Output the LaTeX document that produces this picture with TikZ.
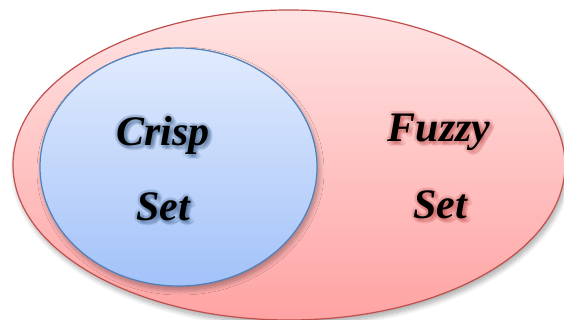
\documentclass[tikz,border=0pt]{standalone}
\usepackage{fontspec}
\setmainfont{Liberation Serif}
\usetikzlibrary{shapes.geometric,shadows.blur,calc}
\definecolor{fuzzyedge}{HTML}{C0504D}
\definecolor{fuzzytop}{HTML}{FFE3E3}
\definecolor{fuzzybot}{HTML}{FFA3A3}
\definecolor{crispedge}{HTML}{4F81BD}
\definecolor{crisptop}{HTML}{E1EBFD}
\definecolor{crispbot}{HTML}{A3C2F9}
\tikzset{
  setshape/.style={ellipse, inner sep=0pt, line width=1.2pt,
    blur shadow={shadow xshift=2pt, shadow yshift=-4pt, shadow blur steps=12, shadow blur radius=5pt, shadow opacity=35}},
  setlabel/.style={font=\fontsize{42}{50}\selectfont\bfseries\itshape, text=black, inner sep=0pt},
  glow/.style={setlabel, text=#1, opacity=0.12},
}
% soft coloured halo behind a label
\newcommand{\glowat}[3]{%
  \foreach \dx/\dy in {-3/0,3/0,0/-3,0/3,-2/-2,2/2,-2/2,2/-2,4/4,3/5,5/3,1/4,4/1}
    \node[glow=#1] at ($(#2)+(\dx,\dy)$) {#3};}
\begin{document}
\begin{tikzpicture}[x=1pt,y=-1pt]
  \useasboundingbox (0,0) rectangle (564,320);
  % outer set
  \node[setshape, draw=fuzzyedge, top color=fuzzytop, bottom color=fuzzybot,
        minimum width=552pt, minimum height=310pt] (fuzzy) at (289,165) {};
  % inner set
  \node[setshape, draw=crispedge, top color=crisptop, bottom color=crispbot,
        minimum width=277pt, minimum height=238pt] (crisp) at (178.5,167) {};
  % label anchors
  \coordinate (c1) at (163,135);
  \coordinate (c2) at (163,207);
  \coordinate (f1) at (439,132);
  \coordinate (f2) at (440,205);
  \glowat{crispedge!70!black}{c1}{Crisp}
  \glowat{crispedge!70!black}{c2}{Set}
  \glowat{fuzzyedge}{f1}{Fuzzy}
  \glowat{fuzzyedge}{f2}{Set}
  \node[setlabel] (crisp1) at (c1) {Crisp};
  \node[setlabel] (crisp2) at (c2) {Set};
  \node[setlabel] (fuzzy1) at (f1) {Fuzzy};
  \node[setlabel] (fuzzy2) at (f2) {Set};
\end{tikzpicture}
\end{document}
